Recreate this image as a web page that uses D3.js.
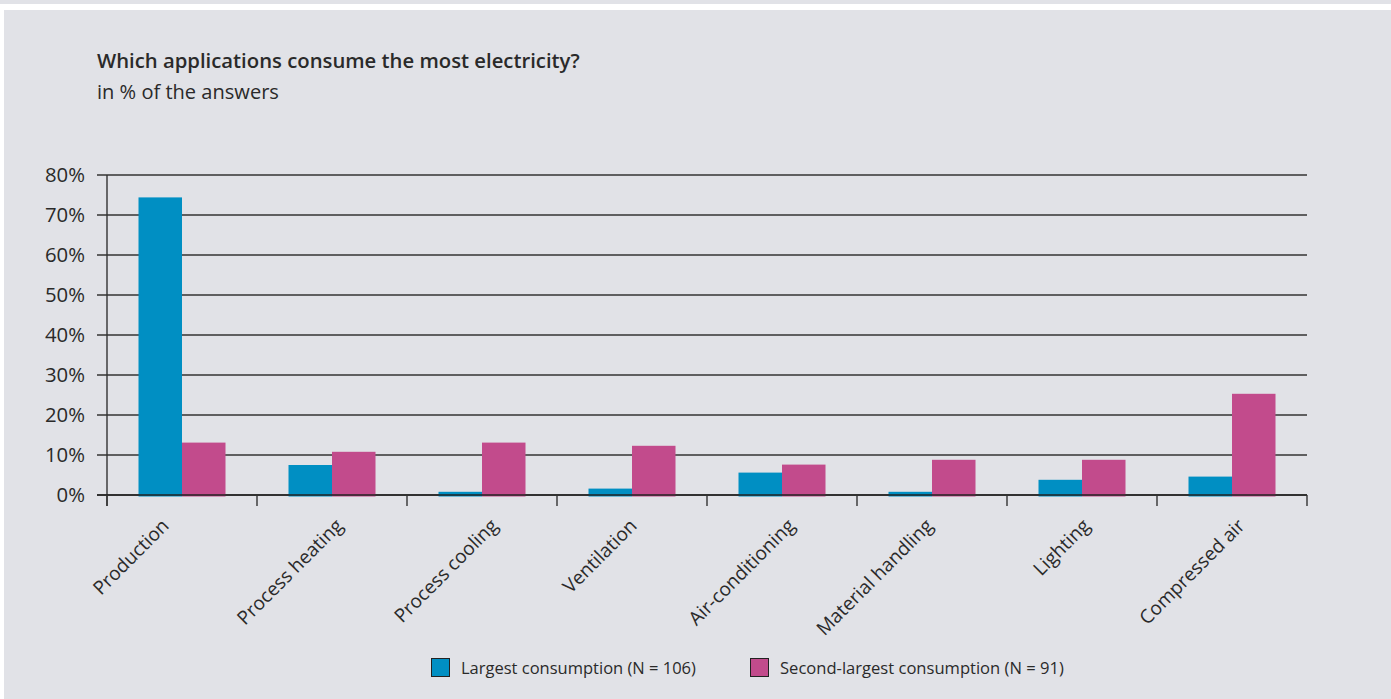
<!DOCTYPE html>
<html><head><meta charset="utf-8">
<script src="https://cdn.jsdelivr.net/npm/d3@7"></script>
<style>
html,body{margin:0;padding:0;background:#fff;}
svg{display:block;}
text{font-family:"Open Sans",sans-serif;fill:#2a2a2a;}
</style></head>
<body><svg id="chart" width="1391" height="699"></svg>
<script>
const categories = ["Production","Process heating","Process cooling","Ventilation","Air-conditioning","Material handling","Lighting","Compressed air"];
const seriesNames = ["Largest consumption (N = 106)","Second-largest consumption (N = 91)"];
const largest = [74.4, 7.5, 0.8, 1.6, 5.6, 0.8, 3.8, 4.6];
const second = [13.1, 10.8, 13.1, 12.3, 7.6, 8.8, 8.8, 25.3];
const yTicks = [0,10,20,30,40,50,60,70,80];
const colors = ["#008fc3","#c24b8c"];

(function(){
const svg = d3.select("#chart");
// fit a text element's font-size so its width equals target
function fit(sel, target){
  const base = 20;
  sel.style("font-size", base+"px");
  const w = sel.node().getComputedTextLength();
  const fs = base*target/w;
  sel.style("font-size", fs+"px");
  return fs;
}

svg.append("rect").attr("x",0).attr("y",0).attr("width",1391).attr("height",4).attr("fill","#e1e2e7");
svg.append("rect").attr("x",4).attr("y",10).attr("width",1387).attr("height",689).attr("fill","#e1e2e7");

const title = svg.append("text").attr("x",97).attr("y",68).style("font-weight","600")
  .text("Which applications consume the most electricity?");
fit(title, 483);
const sub = svg.append("text").attr("x",97).attr("y",99)
  .text("in % of the answers");
fit(sub, 182);

const pl=107, pr=1307, pt=175, pb=495;
const x = d3.scaleBand().domain(categories).range([pl,pr]).paddingInner(0).paddingOuter(0);
const y = d3.scaleLinear().domain([0,80]).range([pb,pt]);
const groupW = 87;
const xs = d3.scaleBand().domain([0,1]).range([0,groupW]);
const groupOffset = (x.bandwidth()-groupW)/2;

svg.append("g").selectAll("line").data(yTicks).join("line")
  .attr("x1",pl-10).attr("x2",pr).attr("y1",d=>y(d)).attr("y2",d=>y(d))
  .attr("stroke","#333").attr("stroke-width",1.4);

const probe = svg.append("text").text("80%");
const yfs = fit(probe, 40);
probe.remove();
svg.append("g").selectAll("text").data(yTicks).join("text")
  .attr("x",85).attr("y",d=>y(d)+7).attr("text-anchor","end").style("font-size",yfs+"px")
  .text(d=>d+"%");

const data = categories.map((c,i)=>({c,vals:[largest[i],second[i]]}));
const grp = svg.append("g").selectAll("g").data(data).join("g")
  .attr("transform",d=>`translate(${x(d.c)+groupOffset},0)`);
grp.selectAll("rect").data(d=>d.vals.map((v,k)=>({v,k}))).join("rect")
  .attr("x",d=>xs(d.k)).attr("width",xs.bandwidth())
  .attr("y",d=>y(d.v)).attr("height",d=>y(0)-y(d.v)+1.5)
  .attr("fill",d=>colors[d.k]);

svg.append("line").attr("x1",pl).attr("x2",pl).attr("y1",pt).attr("y2",pb+11).attr("stroke","#333").attr("stroke-width",1.4);
svg.append("line").attr("x1",pl-10).attr("x2",pr).attr("y1",pb).attr("y2",pb).attr("stroke","#222").attr("stroke-width",1.5);
const tickXs = categories.map(c=>x(c)).concat([pr]);
svg.append("g").selectAll("line").data(tickXs).join("line")
  .attr("x1",d=>d).attr("x2",d=>d).attr("y1",pb).attr("y2",pb+11)
  .attr("stroke","#333").attr("stroke-width",1.4);

// rotated category labels
const labelNudge = [-12, 12, 17, 6, 14, 2, 9, 14];
const probe2 = svg.append("text").text("Process heating");
const xfs = fit(probe2, 140);
probe2.remove();
svg.append("g").selectAll("text").data(categories).join("text")
  .attr("text-anchor","end").style("font-size",xfs+"px")
  .attr("transform",(c,i)=>`translate(${x(c)+x.bandwidth()/2+labelNudge[i]},527) rotate(-45)`)
  .text(c=>c);

// legend
const legX=[431,750];
const legW=[235,284];
seriesNames.forEach((n,i)=>{
  svg.append("rect").attr("x",legX[i]+0.5).attr("y",658.5).attr("width",18).attr("height",18)
    .attr("fill",colors[i]).attr("stroke","#222").attr("stroke-width",1);
  const t = svg.append("text").attr("x",legX[i]+30).attr("y",674).text(n);
  fit(t, legW[i]);
});
})();
</script></body></html>
